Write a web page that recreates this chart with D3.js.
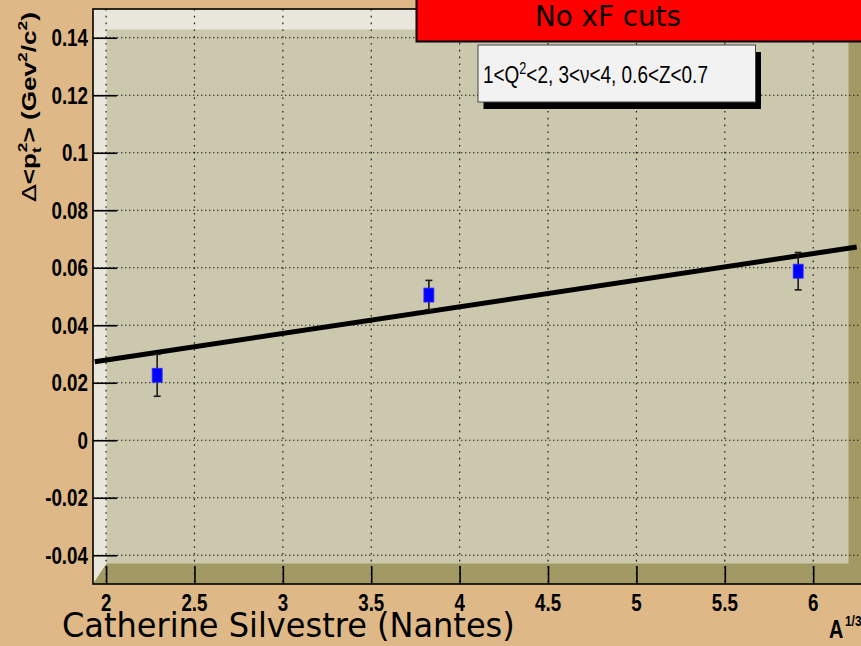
<!DOCTYPE html>
<html>
<head>
<meta charset="utf-8">
<script src="https://cdn.jsdelivr.net/npm/d3@7"></script>
<style>
  html, body { margin: 0; padding: 0; background: #DEB887; }
  svg { display: block; }
</style>
</head>
<body>
<svg id="chart" width="861" height="646"></svg>
<script>
// Nuclear broadening of <pt^2> versus A^(1/3) (C, Fe, Pb targets)
const nucleusA13 = [2.289, 3.826, 5.915];
const dPt2       = [0.0226, 0.0505, 0.0588];
const dPt2Err    = [0.0073, 0.0051, 0.0065];

// Linear fit p0 + p1 * x and the range it is drawn over
const fitParams = [0.00937, 0.00926];
const fitRange  = [1.936, 6.246];

// Axis ranges and labelled ticks
const xRange = [1.926, 6.276];
const yRange = [-0.05, 0.15];
const xTicks      = [2, 2.5, 3, 3.5, 4, 4.5, 5, 5.5, 6];
const xTickLabels = ["2", "2.5", "3", "3.5", "4", "4.5", "5", "5.5", "6"];
const yTicks      = [-0.04, -0.02, 0, 0.02, 0.04, 0.06, 0.08, 0.1, 0.12, 0.14];
const yTickLabels = ["-0.04", "-0.02", "0", "0.02", "0.04", "0.06", "0.08", "0.1", "0.12", "0.14"];

const svg = d3.select("#chart");

// Frame geometry
const L = 93, T = 9, R = 862, B = 584;
const bx = 13.5, by = 20.5;

const x = d3.scaleLinear().domain(xRange).range([L, R]);
const y = d3.scaleLinear().domain(yRange).range([B, T]);

const COL_IN = "#CCC8AE", COL_LIGHT = "#E9E7DC", COL_DARK = "#A29964";

// Text helper: place text at (px,py), then stretch it to a target width
function fitText(parent, opts, build) {
  const t = parent.append("text")
    .attr("x", 0).attr("y", 0)
    .attr("text-anchor", opts.anchor || "start")
    .style("font-family", opts.family || "'Liberation Sans', Arial, sans-serif")
    .style("font-size", opts.size + "px")
    .style("font-weight", opts.weight || "normal")
    .attr("fill", opts.fill || "#000");
  build(t);
  let sx = opts.sx || 1;
  if (opts.w) sx = opts.w / t.node().getBBox().width;
  const sy = opts.sy || 1;
  t.attr("transform", `translate(${opts.x},${opts.y}) rotate(${opts.rot || 0}) scale(${sx},${sy})`);
  return t;
}

// ---- Frame with bevel ----
svg.append("rect").attr("x", L).attr("y", T).attr("width", R - L).attr("height", B - T)
  .attr("fill", COL_IN);
svg.append("polygon")
  .attr("points", [[L, T], [R, T], [R - bx, T + by], [L + bx, T + by], [L + bx, B - by], [L, B]].join(" "))
  .attr("fill", COL_LIGHT);
svg.append("polygon")
  .attr("points", [[L, B], [R, B], [R, T], [R - bx, T + by], [R - bx, B - by], [L + bx, B - by]].join(" "))
  .attr("fill", COL_DARK);

// ---- Grid ----
const grid = svg.append("g").attr("stroke", "#1a1a1a").attr("stroke-width", 1.2);
grid.selectAll("line.v").data(xTicks).join("line")
  .attr("x1", d => x(d)).attr("x2", d => x(d))
  .attr("y1", T).attr("y2", B)
  .attr("stroke-dasharray", "1.6,5.2");
grid.selectAll("line.h").data(yTicks).join("line")
  .attr("x1", L).attr("x2", R)
  .attr("y1", d => y(d)).attr("y2", d => y(d))
  .attr("stroke-dasharray", "1.4,2.6");

// ---- Frame outline ----
svg.append("rect").attr("x", L).attr("y", T).attr("width", R - L).attr("height", B - T)
  .attr("fill", "none").attr("stroke", "#000").attr("stroke-width", 1.6);

// ---- Axes (ticks inward) ----
const xMinor = d3.range(2, 6.3, 0.1).filter(v => v <= xRange[1]);
const yMinor = d3.range(-0.05, 0.1501, 0.005);

const axX = svg.append("g").attr("transform", `translate(0,${B})`);
axX.call(d3.axisBottom(x).tickValues(xMinor).tickSize(-9).tickFormat(""));
axX.call(d3.axisBottom(x).tickValues(xTicks).tickSize(-18).tickFormat(""));
axX.selectAll(".domain").remove();
axX.selectAll("line").attr("stroke", "#000").attr("stroke-width", 1.6);

const axY = svg.append("g").attr("transform", `translate(${L},0)`);
axY.call(d3.axisLeft(y).tickValues(yMinor).tickSize(-13).tickFormat(""));
axY.call(d3.axisLeft(y).tickValues(yTicks).tickSize(-24).tickFormat(""));
axY.selectAll(".domain").remove();
axY.selectAll("line").attr("stroke", "#000").attr("stroke-width", 1.6);

// Tick labels
const tl = svg.append("g");
xTicks.forEach((v, i) => {
  fitText(tl, { x: x(v), y: 611, size: 24, weight: "bold", anchor: "middle", sx: 0.78 },
    t => t.text(xTickLabels[i]));
});
yTicks.forEach((v, i) => {
  fitText(tl, { x: 88, y: y(v) + 8.4, size: 23.5, weight: "bold", anchor: "end", sx: 0.8 },
    t => t.text(yTickLabels[i]));
});

// Axis titles
fitText(svg, { x: 36, y: 202, rot: -90, size: 21, weight: "bold", w: 190, sy: 0.95 }, t => {
  t.append("tspan").style("font-weight", "normal").style("font-family", "'DejaVu Sans', sans-serif").text("Δ");
  t.append("tspan").text("<p");
  t.append("tspan").attr("dy", 5).style("font-size", "14px").text("t");
  t.append("tspan").attr("dx", -4).attr("dy", -14).style("font-size", "14px").text("2");
  t.append("tspan").attr("dy", 9).text("> (Gev");
  t.append("tspan").attr("dy", -9).style("font-size", "14px").text("2");
  t.append("tspan").attr("dy", 9).text("/c");
  t.append("tspan").attr("dy", -9).style("font-size", "14px").text("2");
  t.append("tspan").attr("dy", 9).text(")");
});
fitText(svg, { x: 829, y: 638, size: 26, weight: "bold", w: 14.5 }, t => t.text("A"));
fitText(svg, { x: 845, y: 626, size: 14, weight: "bold", sx: 0.85 }, t => t.text("1/3"));

// ---- Fit line ----
const fitFn = v => fitParams[0] + fitParams[1] * v;
svg.append("path")
  .datum(fitRange)
  .attr("d", d3.line().x(d => x(d)).y(d => y(fitFn(d))))
  .attr("fill", "none").attr("stroke", "#000").attr("stroke-width", 5);

// ---- Data points with error bars ----
const pts = nucleusA13.map((v, i) => ({ a: v, val: dPt2[i], err: dPt2Err[i] }));
const eb = svg.append("g").attr("stroke", "#1a1a1a").attr("stroke-width", 1.6);
eb.selectAll("line.bar").data(pts).join("line")
  .attr("x1", d => x(d.a)).attr("x2", d => x(d.a))
  .attr("y1", d => y(d.val - d.err)).attr("y2", d => y(d.val + d.err));
eb.selectAll("line.lo").data(pts).join("line")
  .attr("x1", d => x(d.a) - 3.5).attr("x2", d => x(d.a) + 3.5)
  .attr("y1", d => y(d.val - d.err)).attr("y2", d => y(d.val - d.err));
eb.selectAll("line.hi").data(pts).join("line")
  .attr("x1", d => x(d.a) - 3.5).attr("x2", d => x(d.a) + 3.5)
  .attr("y1", d => y(d.val + d.err)).attr("y2", d => y(d.val + d.err));
svg.append("g").selectAll("rect").data(pts).join("rect")
  .attr("x", d => x(d.a) - 5).attr("y", d => y(d.val) - 7)
  .attr("width", 10).attr("height", 14)
  .attr("fill", "#0000FF").attr("stroke", "#3030ff").attr("stroke-width", 0.8);

// ---- Title box ----
svg.append("rect").attr("x", 416.5).attr("y", -5).attr("width", 460).attr("height", 46.5)
  .attr("fill", "#FF0000").attr("stroke", "#000").attr("stroke-width", 2);
fitText(svg, { x: 535, y: 25.5, size: 28, family: "'DejaVu Sans', sans-serif", w: 146 },
  t => t.text("No xF cuts"));

// ---- Kinematic selection box ----
svg.append("rect").attr("x", 483.5).attr("y", 52).attr("width", 277.5).attr("height", 57)
  .attr("fill", "#000");
svg.append("rect").attr("x", 478).attr("y", 45).attr("width", 277.5).attr("height", 57)
  .attr("fill", "#F2F2F2").attr("stroke", "#444").attr("stroke-width", 1);
fitText(svg, { x: 483, y: 83, size: 24, w: 225 }, t => {
  t.append("tspan").text("1<Q");
  t.append("tspan").attr("dy", -9).style("font-size", "16px").text("2");
  t.append("tspan").attr("dy", 9).text("<2, 3<ν<4, 0.6<Z<0.7");
});

// ---- Author line ----
fitText(svg, { x: 62, y: 637, size: 33, family: "'DejaVu Sans', sans-serif", w: 453 },
  t => t.text("Catherine Silvestre (Nantes)"));
</script>
</body>
</html>
